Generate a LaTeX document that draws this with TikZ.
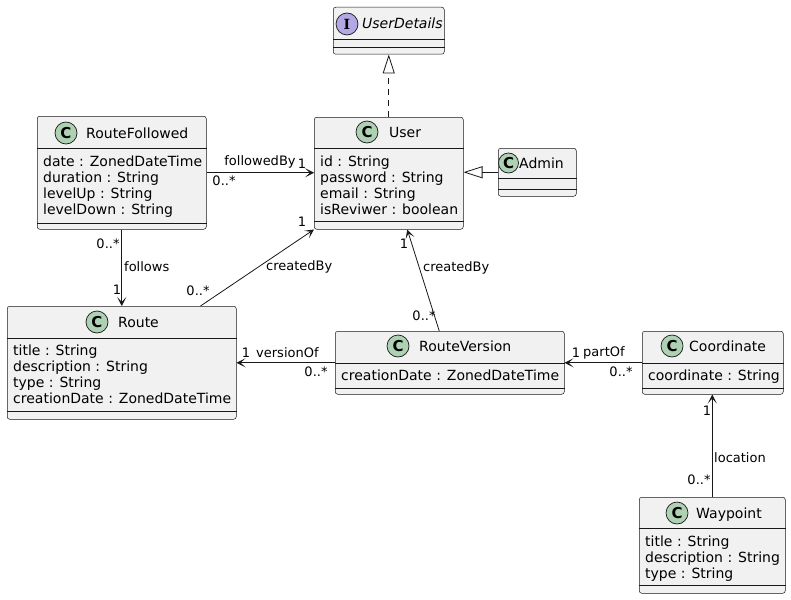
\documentclass[tikz,border=0pt]{standalone}
\usepackage{fontspec}
\setmainfont{DejaVu Sans}
\newfontfamily\iconserif{DejaVu Serif}
\usetikzlibrary{arrows.meta,calc,positioning}
\definecolor{umlfill}{HTML}{F1F1F1}
\definecolor{umlline}{HTML}{181818}
\definecolor{cgreen}{HTML}{ADD1B2}
\definecolor{ipurple}{HTML}{B4A7E5}
\begin{document}
\begin{tikzpicture}[x=1pt,y=-1pt,
  cls/.style={draw=umlline, fill=umlfill, line width=0.5pt, rounded corners=2.5pt, anchor=north west, inner sep=0},
  sep/.style={draw=umlline, line width=0.5pt},
  cicon/.style={circle, draw=umlline, line width=0.7pt, fill=cgreen, minimum size=22pt, inner sep=0, font=\fontsize{15}{15}\bfseries\selectfont},
  iicon/.style={cicon, fill=ipurple, font=\fontsize{14}{14}\iconserif\bfseries\selectfont},
  ttl/.style={anchor=base west, inner sep=0, font=\fontsize{14}{16}\selectfont},
  attr/.style={anchor=base west, inner sep=0, font=\fontsize{14}{16}\selectfont},
  lbl/.style={inner sep=0, font=\fontsize{13}{15}\selectfont},
  assoc/.style={draw=umlline, line width=0.8pt, -{Stealth[length=9pt,width=9pt,inset=5pt]}},
  ext/.style={draw=umlline, line width=0.8pt, -{Triangle[open,length=19pt,width=12pt]}},
  impl/.style={ext, dash pattern=on 6pt off 5pt}]
\useasboundingbox[fill=white] (0,0) rectangle (791,599);

% UserDetails (interface)
\node[cls, minimum width=111pt, minimum height=47pt] (ud) at (333,7) {};
\draw[sep] ([yshift=-32pt]ud.north west) -- ([yshift=-32pt]ud.north east);
\draw[sep] ([yshift=-40pt]ud.north west) -- ([yshift=-40pt]ud.north east);
\node[iicon] (udI) at (347,24) {I};
\node[ttl] (udT) at (362,29) {\itshape UserDetails};

% User
\node[cls, minimum width=149pt, minimum height=112pt] (user) at (314,117) {};
\draw[sep] ([yshift=-31pt]user.north west) -- ([yshift=-31pt]user.north east);
\draw[sep] ([yshift=-104pt]user.north west) -- ([yshift=-104pt]user.north east);
\node[cicon] (userC) at (367,132) {C};
\node[ttl] (userT) at (389,137) {User};
\foreach \a [count=\i] in {id : String, password : String, email : String, isReviwer : boolean}
  \node[attr] (userA\i) at ($(user.north west)+(6,33+16*\i)$) {\a};

% Admin
\node[cls, minimum width=78pt, minimum height=48pt] (admin) at (498,148) {};
\draw[sep] ([yshift=-30pt]admin.north west) -- ([yshift=-30pt]admin.north east);
\draw[sep] ([yshift=-41pt]admin.north west) -- ([yshift=-41pt]admin.north east);
\node[cicon, minimum size=20pt] (adminC) at (508.5,163) {C};
\node[ttl] (adminT) at (519,168) {Admin};

% RouteFollowed
\node[cls, minimum width=169pt, minimum height=113pt] (rf) at (37,116) {};
\draw[sep] ([yshift=-32pt]rf.north west) -- ([yshift=-32pt]rf.north east);
\draw[sep] ([yshift=-107pt]rf.north west) -- ([yshift=-107pt]rf.north east);
\node[cicon] (rfC) at (66,133) {C};
\node[ttl] (rfT) at (86,138) {RouteFollowed};
\foreach \a [count=\i] in {date : ZonedDateTime, duration : String, levelUp : String, levelDown : String}
  \node[attr] (rfA\i) at ($(rf.north west)+(6,34+16*\i)$) {\a};

% Route
\node[cls, minimum width=229pt, minimum height=113pt] (route) at (7,306) {};
\draw[sep] ([yshift=-32pt]route.north west) -- ([yshift=-32pt]route.north east);
\draw[sep] ([yshift=-105pt]route.north west) -- ([yshift=-105pt]route.north east);
\node[cicon] (routeC) at (97,322) {C};
\node[ttl] (routeT) at (118,327) {Route};
\foreach \a [count=\i] in {title : String, description : String, type : String, creationDate : ZonedDateTime}
  \node[attr] (routeA\i) at ($(route.north west)+(6,33+16*\i)$) {\a};

% RouteVersion
\node[cls, minimum width=229pt, minimum height=63pt] (rv) at (335,331) {};
\draw[sep] ([yshift=-32pt]rv.north west) -- ([yshift=-32pt]rv.north east);
\draw[sep] ([yshift=-57pt]rv.north west) -- ([yshift=-57pt]rv.north east);
\node[cicon] (rvC) at (398,346) {C};
\node[ttl] (rvT) at (419,351) {RouteVersion};
\node[attr] (rvA1) at ($(rv.north west)+(6,49)$) {creationDate : ZonedDateTime};

% Coordinate
\node[cls, minimum width=141pt, minimum height=63pt] (coord) at (642,331) {};
\draw[sep] ([yshift=-32pt]coord.north west) -- ([yshift=-32pt]coord.north east);
\draw[sep] ([yshift=-57pt]coord.north west) -- ([yshift=-57pt]coord.north east);
\node[cicon] (coordC) at (672,346) {C};
\node[ttl] (coordT) at (689,351) {Coordinate};
\node[attr] (coordA1) at ($(coord.north west)+(6,49)$) {coordinate : String};

% Waypoint
\node[cls, minimum width=146pt, minimum height=96pt] (wp) at (639,497) {};
\draw[sep] ([yshift=-31pt]wp.north west) -- ([yshift=-31pt]wp.north east);
\draw[sep] ([yshift=-88pt]wp.north west) -- ([yshift=-88pt]wp.north east);
\node[cicon] (wpC) at (677,513) {C};
\node[ttl] (wpT) at (696,518) {Waypoint};
\foreach \a [count=\i] in {title : String, description : String, type : String}
  \node[attr] (wpA\i) at ($(wp.north west)+(6,33+16*\i)$) {\a};

% generalisation
\draw[impl] (user.north) -- (ud.south);
\draw[ext] (admin.west) -- (admin.west -| user.east);

% associations
\draw[assoc] (rf.east) -- (user.west |- rf.east);
\node[lbl] (fbL) at (260,162) {followedBy};
\node[lbl] (fbOne) at (302,164) {1};
\node[lbl] (fbMany) at (224,181) {0..*};

\draw[assoc] (rf.south) -- (route.north -| rf.south);
\node[lbl] (flMany) at (108,244) {0..*};
\node[lbl, anchor=west] (flL) at (124,267) {follows};
\node[lbl] (flOne) at (117,290) {1};

\draw[assoc] ([xshift=-36pt]route.north east) -- (user.south west);
\node[lbl] (cbMany) at (198,291) {0..*};
\node[lbl, anchor=west] (cbL) at (266,267) {createdBy};
\node[lbl] (cbOne) at (302,222) {1};

\draw[assoc] ([xshift=-10.5pt]rv.north) -- ([xshift=18.5pt]user.south);
\node[lbl] (cvOne) at (404,244) {1};
\node[lbl, anchor=west] (cvL) at (423,268) {createdBy};
\node[lbl] (cvMany) at (424,316) {0..*};

\draw[assoc] (rv.west) -- (route.east |- rv.west);
\node[lbl] (voOne) at (246,353) {1};
\node[lbl, anchor=west] (voL) at (256,353) {versionOf};
\node[lbl] (voMany) at (316,372) {0..*};

\draw[assoc] (coord.west) -- (rv.east |- coord.west);
\node[lbl] (poOne) at (576,353) {1};
\node[lbl, anchor=west] (poL) at (583,353) {partOf};
\node[lbl] (poMany) at (621,372) {0..*};

\draw[assoc] (wp.north) -- (coord.south -| wp.north);
\node[lbl] (loOne) at (707,411) {1};
\node[lbl, anchor=west] (loL) at (714,458) {location};
\node[lbl] (loMany) at (699,480) {0..*};
\end{tikzpicture}
\end{document}
